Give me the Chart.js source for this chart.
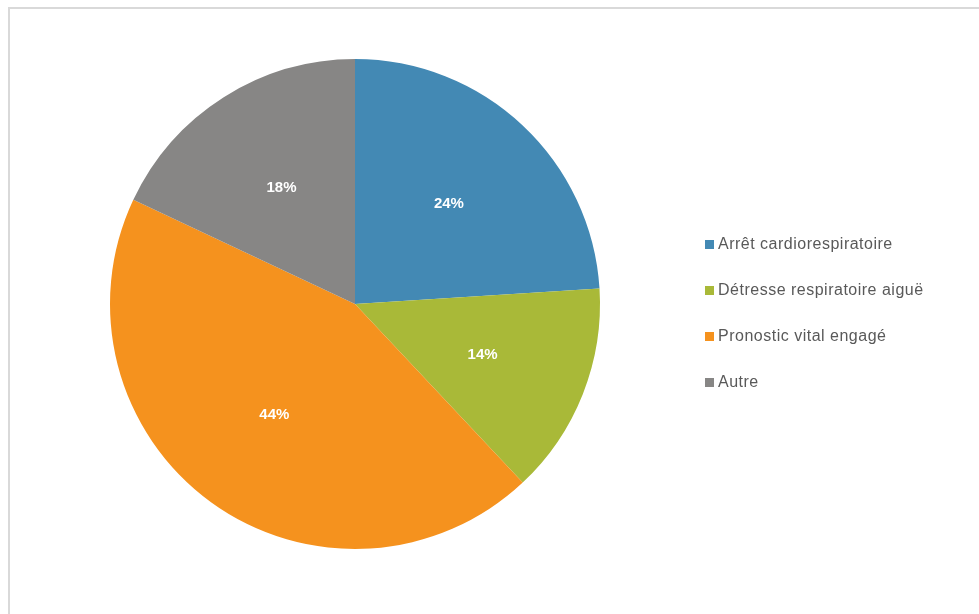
<!DOCTYPE html>
<html lang="fr">

<head>
  <meta charset="UTF-8">
  <title>Répartition des motifs</title>
  <script src="https://cdn.jsdelivr.net/npm/chart.js"></script>
  <style>
    html, body { margin: 0; padding: 0; background: #fff; overflow: hidden; }
    .cadre {
      position: absolute; left: 8px; top: 7px; width: 1000px; height: 700px;
      border: 2px solid #d9d9d9; box-sizing: border-box;
    }
    .zone { position: absolute; left: 0; top: 0; width: 979px; height: 614px; }
    #legende {
      position: absolute; left: 705px; top: 232px;
      font-family: "Liberation Sans", Arial, sans-serif; font-size: 16px; color: #595959;
      letter-spacing: 0.5px;
    }
    #legende div { height: 46px; line-height: 23px; white-space: nowrap; }
    #legende span.carre {
      display: inline-block; width: 9px; height: 9px; margin-right: 4px; vertical-align: 0px;
    }
  </style>
</head>

<body>
  <div class="cadre"></div>
  <div class="zone">
    <canvas id="camembert" width="979" height="614"></canvas>
  </div>
  <div id="legende"></div>
</body>

</html>
<script>

  const categories = ['Arrêt cardiorespiratoire', 'Détresse respiratoire aiguë', 'Pronostic vital engagé', 'Autre'];
  const valeurs = [24, 14, 44, 18];
  const couleurs = ['rgb(67, 137, 180)', 'rgb(169, 185, 56)', 'rgb(245, 146, 30)', 'rgb(135, 134, 133)'];

  // pourcentages écrits au milieu de chaque part
  const etiquettes = {
    id: 'etiquettes',
    afterDatasetsDraw(chart) {
      const ctx = chart.ctx;
      const meta = chart.getDatasetMeta(0);
      const total = valeurs.reduce((a, b) => a + b, 0);
      ctx.save();
      ctx.fillStyle = '#ffffff';
      ctx.font = 'bold 15px "Liberation Sans", Arial, sans-serif';
      ctx.textAlign = 'center';
      ctx.textBaseline = 'middle';
      meta.data.forEach(function (arc, i) {
        const p = arc.getProps(['x', 'y', 'startAngle', 'endAngle', 'outerRadius'], true);
        const a = (p.startAngle + p.endAngle) / 2;
        const d = p.outerRadius * 0.56;
        const pct = Math.round(valeurs[i] / total * 100) + '%';
        ctx.fillText(pct, p.x + Math.cos(a) * d, p.y + Math.sin(a) * d);
      });
      ctx.restore();
    }
  };

  const ctx = document.getElementById('camembert').getContext('2d');
  const camembert = new Chart(ctx, {
    type: 'pie',
    data: {
      labels: categories,
      datasets: [{
        data: valeurs,
        backgroundColor: couleurs,
        borderWidth: 0
      }]
    },
    options: {
      responsive: false,
      animation: false,
      layout: { padding: { left: 110, right: 379, top: 59, bottom: 65 } },
      plugins: {
        legend: { display: false },
        tooltip: { enabled: false }
      }
    },
    plugins: [etiquettes]
  });

  // légende à droite
  const legende = document.getElementById('legende');
  categories.forEach(function (nom, i) {
    const ligne = document.createElement('div');
    ligne.innerHTML = '<span class="carre" style="background:' + couleurs[i] + '"></span>' + nom;
    legende.appendChild(ligne);
  });

</script>
